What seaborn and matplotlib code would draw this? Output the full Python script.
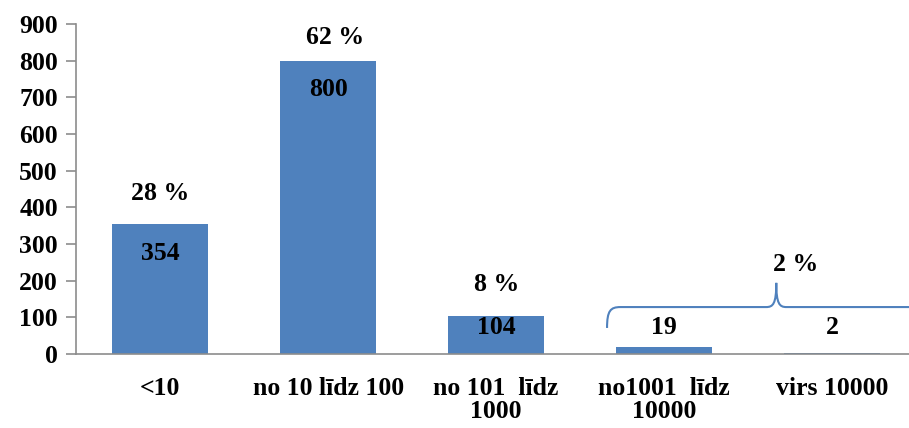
import matplotlib
matplotlib.use("Agg")
import matplotlib.pyplot as plt
from matplotlib.path import Path
from matplotlib.patches import PathPatch
import seaborn as sns
import pandas as pd

categories = ["<10", "no 10 līdz 100", "no 101  līdz\n1000", "no1001  līdz\n10000", "virs 10000"]
counts = [354, 800, 104, 19, 2]
shares = ["28 %", "62 %", "8 %"]
group_share = "2 %"

BLUE = "#4F81BD"
FONT = "Liberation Serif"
FS = 18.5

sns.set_style("white")
plt.rcParams["font.family"] = [FONT, "DejaVu Serif"]
plt.rcParams["font.weight"] = "bold"
plt.rcParams["text.color"] = "black"
plt.rcParams["xtick.color"] = "black"
plt.rcParams["ytick.color"] = "black"

df = pd.DataFrame({"group": categories, "count": counts})

fig = plt.figure(figsize=(9.09, 4.28), dpi=100)
ax = fig.add_axes([0.0836, 0.1729, 1.0 - 0.0836 + 0.008, 0.944 - 0.1729])

sns.barplot(data=df, x="group", y="count", color=BLUE, saturation=1,
            width=0.57, linewidth=0, ax=ax)

ax.set_xlim(-0.5, 4.5)
ax.set_ylim(0, 900)
ax.set_yticks(range(0, 901, 100))
ax.set_xlabel("")
ax.set_ylabel("")

for s in ["top", "right"]:
    ax.spines[s].set_visible(False)
for s in ["left", "bottom"]:
    ax.spines[s].set_color("#8c8c8c")
    ax.spines[s].set_linewidth(1.2)

ax.tick_params(axis="y", which="both", left=True, length=7, width=1.2,
               color="#8c8c8c", labelcolor="black", labelsize=FS, pad=6)
ax.tick_params(axis="x", bottom=False, labelcolor="black", labelsize=FS, pad=13)
for lbl in ax.get_yticklabels() + ax.get_xticklabels():
    lbl.set_fontweight("bold")
    lbl.set_fontfamily(FONT)
for lbl in ax.get_xticklabels():
    lbl.set_linespacing(1.0)

# value labels inside / near the bars
for i, v in enumerate(counts):
    ax.text(i, max(v - 79, 71), str(v), ha="center", va="center",
            fontsize=FS, fontweight="bold", family=FONT, color="black")

# share labels above the three largest groups
offsets = [(0, 31), (7, 23), (0, 31)]
for i, (v, s) in enumerate(zip(counts[:3], shares)):
    ax.annotate(s, xy=(i, v), xytext=offsets[i],
                textcoords="offset pixels", ha="center", va="center",
                fontsize=FS, fontweight="bold", family=FONT, color="black")

# curly brace grouping the last two categories
x0, xm, x1 = 2.66, 3.667, 4.6
yb, yl, yp = 71, 128, 194
verts = [
    (x0, yb), (x0, yl - 10), (x0 + 0.02, yl), (x0 + 0.08, yl),
    (xm - 0.06, yl),
    (xm - 0.02, yl), (xm, yl + 8), (xm, yp),
    (xm, yl + 8), (xm + 0.02, yl), (xm + 0.06, yl),
    (x1, yl),
]
codes = [Path.MOVETO, Path.CURVE4, Path.CURVE4, Path.CURVE4,
         Path.LINETO,
         Path.CURVE4, Path.CURVE4, Path.CURVE4,
         Path.CURVE4, Path.CURVE4, Path.CURVE4,
         Path.LINETO]
ax.add_patch(PathPatch(Path(verts, codes), fill=False, edgecolor=BLUE,
                       linewidth=1.5, clip_on=False))
ax.text(3.78, 245, group_share, ha="center", va="center", fontsize=FS,
        fontweight="bold", family=FONT, color="black")

fig.savefig("out.png", dpi=100)
